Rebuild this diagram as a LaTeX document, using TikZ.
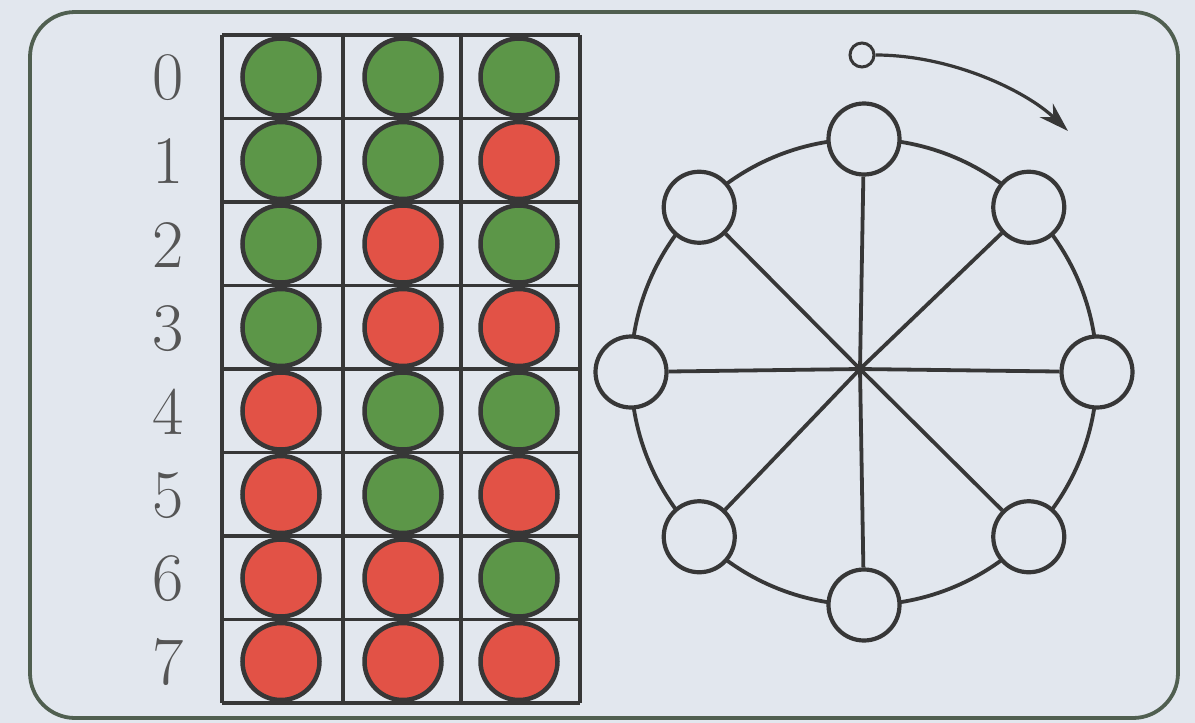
\documentclass[tikz,border=0pt]{standalone}
\usetikzlibrary{arrows.meta}
\definecolor{bg}{RGB}{226,231,238}
\definecolor{gr}{RGB}{92,150,72}
\definecolor{rd}{RGB}{226,82,70}
\definecolor{ink}{RGB}{55,55,55}
\definecolor{framec}{RGB}{80,95,80}
\definecolor{lab}{RGB}{85,85,85}
\begin{document}
\begin{tikzpicture}[x=1pt,y=-1pt,
  ball/.style={circle,draw=ink,line width=4.5pt,minimum size=77pt,inner sep=0pt},
  G/.style={ball,fill=gr},
  R/.style={ball,fill=rd},
  gridline/.style={draw=ink,line width=3.6pt},
  wnode/.style={circle,draw=ink,fill=bg,line width=4.2pt,minimum size=71pt,inner sep=0pt},
  wline/.style={draw=ink,line width=3.8pt},
  rowlab/.style={text=lab,font=\fontsize{68}{68}\selectfont,inner sep=0pt}]
\path[fill=bg,use as bounding box] (0,0) rectangle (1195,723);
\draw[draw=framec,line width=3.8pt,rounded corners=45pt] (30,12) rectangle (1178,718);
% grid
\foreach \x in {222,343,461,580} \draw[gridline] (\x,35) -- (\x,703);
\foreach \r in {0,...,8} \draw[gridline] (222,{35+83.5*\r}) -- (580,{35+83.5*\r});
% balls and labels
\foreach \r/\a/\b/\c in {0/G/G/G,1/G/G/R,2/G/R/G,3/G/R/R,4/R/G/G,5/R/G/R,6/R/R/G,7/R/R/R}{
  \node[rowlab] (l\r) at (168,{78+83.5*\r}) {\r};
  \node[\a] (b\r-0) at (281,{77+83.5*\r}) {};
  \node[\b] (b\r-1) at (403,{77+83.5*\r}) {};
  \node[\c] (b\r-2) at (519,{77+83.5*\r}) {};
}
% wheel
\coordinate (hub) at (860,369);
\draw[wline] (864,372) circle[radius=233];
\foreach \i/\ang in {0/90,1/45,2/0,3/-45,4/-90,5/-135,6/180,7/135}{
  \node[wnode] (w\i) at ({864+233*cos(\ang)},{372-233*sin(\ang)}) {};
}
\foreach \i in {0,...,7} \draw[wline] (hub) -- (w\i);
% small circle and arrow
\node[circle,draw=ink,fill=bg,line width=3pt,minimum size=24pt,inner sep=0pt] (s) at (862,55) {};
\coordinate (tip) at (1068,131);
\draw[wline,line width=3.2pt,-{Stealth[length=30pt,width=19pt]}] (s.east) .. controls (950,55) and (1025,90) .. (tip);
\end{tikzpicture}
\end{document}
